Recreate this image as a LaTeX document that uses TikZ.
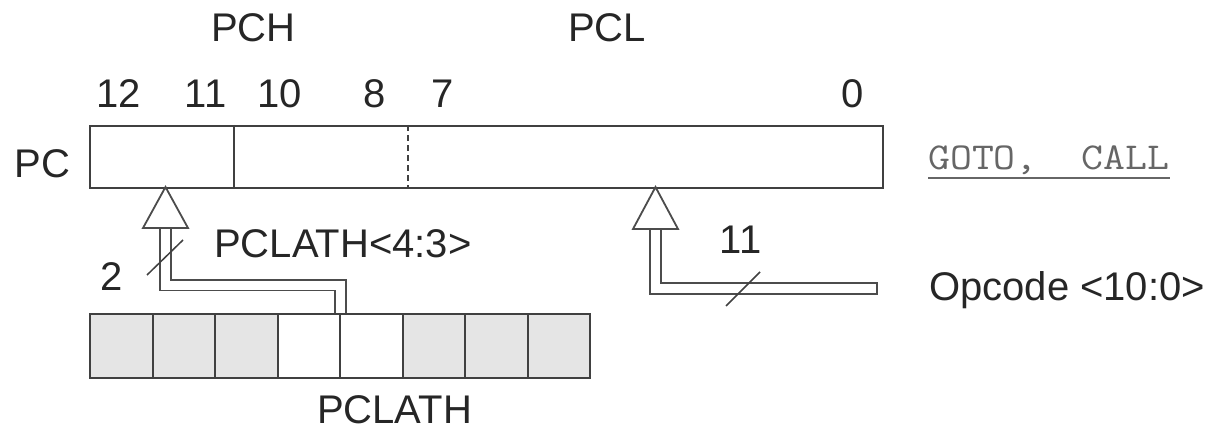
\documentclass[tikz,border=0pt]{standalone}
\usepackage{fontspec}
\usepackage{graphicx}
\setmainfont{Liberation Sans}
\begin{document}
\begin{tikzpicture}[x=1pt,y=-1pt,
  lbl/.style={inner sep=0pt, anchor=base, font=\fontsize{40}{48}\selectfont, text=black!85},
  boxline/.style={draw=black!75, line width=2pt},
  cellg/.style={boxline, fill=black!10, minimum width=62.5pt, minimum height=64pt, inner sep=0pt, anchor=north west},
  cellw/.style={cellg, fill=white},
  bus/.style={draw=black!70, double=white, line width=1.8pt, double distance=9pt},
  tri/.style={draw=black!70, fill=white, line width=1.8pt, line join=miter},
  tick/.style={draw=black!75, line width=1.5pt}]
\useasboundingbox (0,0) rectangle (1212,433);

% PC register
\node[boxline, minimum width=793pt, minimum height=62pt, anchor=north west, inner sep=0pt] (pc) at (89,125) {};
\draw[boxline] ([xshift=145pt]pc.north west) -- ([xshift=145pt]pc.south west);
\draw[boxline, line width=1.6pt, dash pattern=on 6pt off 4pt] ([xshift=319pt]pc.north west) -- ([xshift=319pt]pc.south west);

% PCLATH register cells
\node[cellg] (c0) at (89,313) {};
\node[cellg] (c1) at (151.5,313) {};
\node[cellg] (c2) at (214,313) {};
\node[cellw] (c3) at (276.5,313) {};
\node[cellw] (c4) at (339,313) {};
\node[cellg] (c5) at (401.5,313) {};
\node[cellg] (c6) at (464,313) {};
\node[cellg] (c7) at (526.5,313) {};

% labels
\node[lbl] (pch) at (253.5,42) {PCH};
\node[lbl] (pcl) at (607,42) {PCL};
\node[lbl] (b12) at (119,108) {12};
\node[lbl] (b11) at (205.5,108) {11};
\node[lbl] (b10) at (280,108) {10};
\node[lbl] (b8) at (375,108) {8};
\node[lbl] (b7) at (443,108) {7};
\node[lbl] (b0) at (852.5,108) {0};
\node[lbl] (pclbl) at (42.5,177) {PC};
\node[lbl, anchor=base west] (pcl43) at (214,257) {PCLATH<4:3>};
\node[lbl] (two) at (112,290) {2};
\node[lbl] (eleven) at (740.5,253) {11};
\node[lbl, anchor=base west] (opc) at (929,300) {Opcode <10:0>};
\node[lbl] (pclath) at (394.5,423) {PCLATH};
\node[inner sep=0pt, anchor=base west, font=\ttfamily\fontsize{38}{42}\selectfont, text=black!60] (gc) at (928,169) {\scalebox{1.12}[1]{GOTO,~~CALL}};
\draw[draw=black!60, line width=2pt] ([yshift=-9pt]gc.base west) -- ([yshift=-9pt]gc.base east);

% left bus arrow (PCLATH<4:3> -> PC<12:11>)
\coordinate (lapex) at (165.5,187);
\coordinate (lbase) at (165.5,228);
\coordinate (lbend) at (165.5,285);
\draw[bus] (lbase) -- (lbend) -| ([xshift=1.5pt]c4.north west);
\draw[tri] (lapex) -- ++(-22.5,41) -- ++(45,0) -- cycle;
\draw[tick] (147,275) -- (183,240);

% right bus arrow (Opcode -> PC<10:0>)
\coordinate (rapex) at (655.5,187);
\coordinate (rbase) at (655.5,229);
\coordinate (rbend) at (655.5,288.5);
\coordinate (rend) at (878,288.5);
\draw[bus] (rbase) -- (rbend) -- (rend);
\draw[draw=black!70, line width=1.8pt] ([xshift=-0.9pt,yshift=6.3pt]rend) -- ([xshift=-0.9pt,yshift=-6.3pt]rend);
\draw[tri] (rapex) -- ++(-22.5,42) -- ++(45,0) -- cycle;
\draw[tick] (726,306) -- (760,272);
\end{tikzpicture}
\end{document}
